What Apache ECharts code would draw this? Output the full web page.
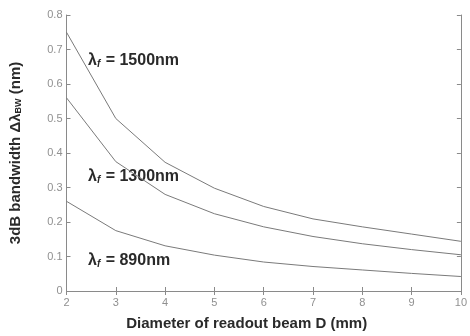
<!DOCTYPE html>
<html>
<head>
<meta charset="utf-8">
<script src="https://cdn.jsdelivr.net/npm/echarts@6/dist/echarts.min.js"></script>
<style>html,body{margin:0;padding:0;background:#fff;}#c{width:470px;height:336px;}</style>
</head>
<body>
<div id="c"></div>
<script>
const diameters = [2, 3, 4, 5, 6, 7, 8, 9, 10];
const bw1500 = [0.75, 0.50, 0.373, 0.298, 0.245, 0.209, 0.186, 0.165, 0.144];
const bw1300 = [0.56, 0.375, 0.28, 0.224, 0.186, 0.158, 0.137, 0.12, 0.105];
const bw890 = [0.26, 0.175, 0.131, 0.104, 0.084, 0.071, 0.061, 0.051, 0.042];
const seriesNames = ['1500nm', '1300nm', '890nm'];

const chart = echarts.init(document.getElementById('c'));
const axisColor = '#8a8a8a';
const labelColor = '#909090';
const lineColor = '#7a7a7a';
const pairs = arr => diameters.map((d, i) => [d, arr[i]]);
const baseX = {
  type: 'value', min: 2, max: 10, interval: 1,
  axisLine: {show: true, lineStyle: {color: axisColor, width: 1}},
  axisTick: {show: true, inside: true, length: 4, lineStyle: {color: axisColor}},
  splitLine: {show: false}
};
const baseY = {
  type: 'value', min: 0, max: 0.8, interval: 0.1,
  axisLine: {show: true, lineStyle: {color: axisColor, width: 1}},
  axisTick: {show: true, inside: true, length: 4, lineStyle: {color: axisColor}},
  splitLine: {show: false}
};
const annot = (name, x, y) => ({
  type: 'text', left: x, top: y,
  style: {
    rich: {
      b: {fontFamily: 'Liberation Sans, Arial', fontWeight: 'bold', fontSize: 16, fill: '#2a2a2a'},
      s: {fontFamily: 'Liberation Sans, Arial', fontWeight: 'bold', fontStyle: 'italic', fontSize: 10, fill: '#2a2a2a', padding: [7, 1, 0, 0]}
    },
    text: '{b|λ}{s|f}{b| = ' + name + '}'
  }
});
chart.setOption({
  animation: false,
  backgroundColor: '#fff',
  grid: {left: 66, right: 3, top: 15, bottom: 45, containLabel: false},
  xAxis: [
    Object.assign({}, baseX, {
      position: 'bottom',
      name: 'Diameter of readout beam D (mm)',
      nameLocation: 'middle', nameGap: 25,
      nameTextStyle: {fontFamily: 'Liberation Sans, Arial', fontWeight: 'bold', fontSize: 15, color: '#2a2a2a', padding: [0, 34, 0, 0]},
      axisLabel: {color: labelColor, fontSize: 11, fontFamily: 'Liberation Sans, Arial', margin: 6}
    }),
    Object.assign({}, baseX, {position: 'top', axisLabel: {show: false}})
  ],
  yAxis: [
    Object.assign({}, baseY, {
      position: 'left',
      name: '{t|3dB bandwidth Δλ}{s|BW}{t| (nm)}',
      nameLocation: 'middle', nameGap: 43, nameRotate: 90,
      nameTextStyle: {
        rich: {
          t: {fontFamily: 'Liberation Sans, Arial', fontWeight: 'bold', fontSize: 15, color: '#2a2a2a'},
          s: {fontFamily: 'Liberation Sans, Arial', fontWeight: 'bold', fontSize: 9, color: '#2a2a2a', padding: [7, 0, 0, 0]}
        }
      },
      axisLabel: {color: labelColor, fontSize: 11, fontFamily: 'Liberation Sans, Arial', margin: 4,
        formatter: v => v === 0 ? '0' : v.toFixed(1)}
    }),
    Object.assign({}, baseY, {position: 'right', axisLabel: {show: false}})
  ],
  series: [bw1500, bw1300, bw890].map((arr, i) => ({
    name: seriesNames[i], type: 'line', data: pairs(arr),
    showSymbol: false, symbol: 'none',
    lineStyle: {color: lineColor, width: 1}
  })),
  graphic: [
    annot(seriesNames[0], 88, 53),
    annot(seriesNames[1], 88, 169),
    annot(seriesNames[2], 88, 253)
  ]
});
</script>
</body>
</html>
